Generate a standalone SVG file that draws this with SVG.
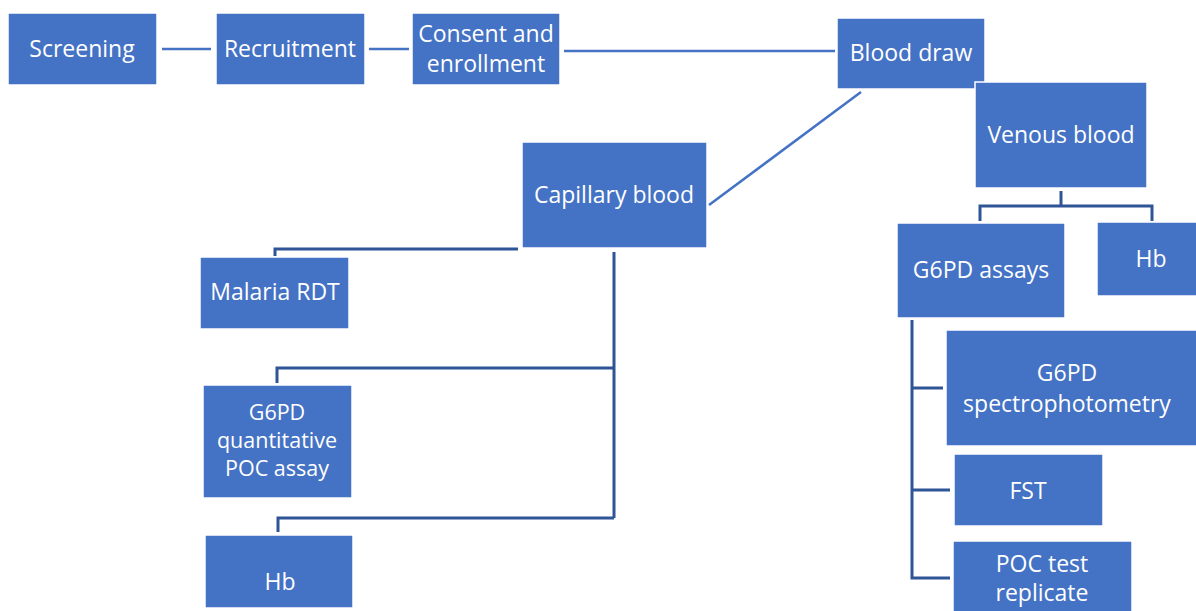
<svg xmlns="http://www.w3.org/2000/svg" width="1196" height="611" viewBox="0 0 1196 611">
<style>
.box{fill:#4472C4;stroke:#ffffff;stroke-width:1.5}
.t{font-family:"Open Sans","Liberation Sans",sans-serif;font-size:23px;fill:#ffffff;text-anchor:middle}
.s{font-size:21.5px}
.ln{fill:none;stroke:#4472C4;stroke-width:2.5}
.el{fill:none;stroke:#2F5597;stroke-width:3}
</style>
<rect width="1196" height="611" fill="#ffffff"/>
<g id="connectors">
<line class="ln" x1="162" y1="49" x2="211" y2="49"/>
<line class="ln" x1="369" y1="49" x2="409" y2="49"/>
<line class="ln" x1="564" y1="51" x2="835" y2="51"/>
<line class="ln" x1="861" y1="92" x2="709" y2="205"/>
<polyline class="el" points="518,249 275,249 275,256"/>
<polyline class="el" points="614,252 614,518"/>
<polyline class="el" points="614,368 277,368 277,383"/>
<polyline class="el" points="614,518 278,518 278,532"/>
<polyline class="el" points="1061,191 1061,206"/>
<polyline class="el" points="980,221 980,206 1152,206 1152,221"/>
<polyline class="el" points="912,320 912,578 950,578"/>
<line class="el" x1="912" y1="388" x2="943" y2="388"/>
<line class="el" x1="912" y1="490" x2="950" y2="490"/>
</g>
<g id="screening"><rect class="box" x="8" y="13" width="149" height="72"/><text class="t" x="82" y="57">Screening</text></g>
<g id="recruitment"><rect class="box" x="216" y="13" width="149" height="72"/><text class="t" x="290" y="57">Recruitment</text></g>
<g id="consent"><rect class="box" x="412" y="13" width="148" height="72"/><text class="t" x="486" y="42">Consent and</text><text class="t" x="486" y="72">enrollment</text></g>
<g id="blood-draw"><rect class="box" x="837" y="18" width="148" height="71"/><text class="t" x="911" y="61">Blood draw</text></g>
<g id="venous"><rect class="box" x="975" y="82" width="172" height="106"/><text class="t" x="1061" y="143">Venous blood</text></g>
<g id="capillary"><rect class="box" x="522" y="142" width="185" height="106"/><text class="t" x="614" y="203">Capillary blood</text></g>
<g id="malaria-rdt"><rect class="box" x="200" y="257" width="149" height="72"/><text class="t" x="275" y="300">Malaria RDT</text></g>
<g id="g6pd-poc"><rect class="box" x="203" y="385" width="149" height="113"/><text class="t s" x="277" y="420">G6PD</text><text class="t s" x="277" y="448">quantitative</text><text class="t s" x="277" y="476">POC assay</text></g>
<g id="hb-cap"><rect class="box" x="205" y="535" width="148" height="73"/><text class="t" x="280" y="590">Hb</text></g>
<g id="g6pd-assays"><rect class="box" x="897" y="223" width="168" height="95"/><text class="t" x="981" y="278">G6PD assays</text></g>
<g id="hb-ven"><rect class="box" x="1097" y="222" width="100" height="74"/><text class="t" x="1151" y="267">Hb</text></g>
<g id="spectro"><rect class="box" x="946" y="330" width="251" height="116"/><text class="t" x="1067" y="381">G6PD</text><text class="t" x="1067" y="412">spectrophotometry</text></g>
<g id="fst"><rect class="box" x="954" y="454" width="149" height="72"/><text class="t" x="1028" y="499">FST</text></g>
<g id="poc-rep"><rect class="box" x="953" y="541" width="179" height="72"/><text class="t" x="1042" y="572">POC test</text><text class="t" x="1042" y="601">replicate</text></g>
</svg>
